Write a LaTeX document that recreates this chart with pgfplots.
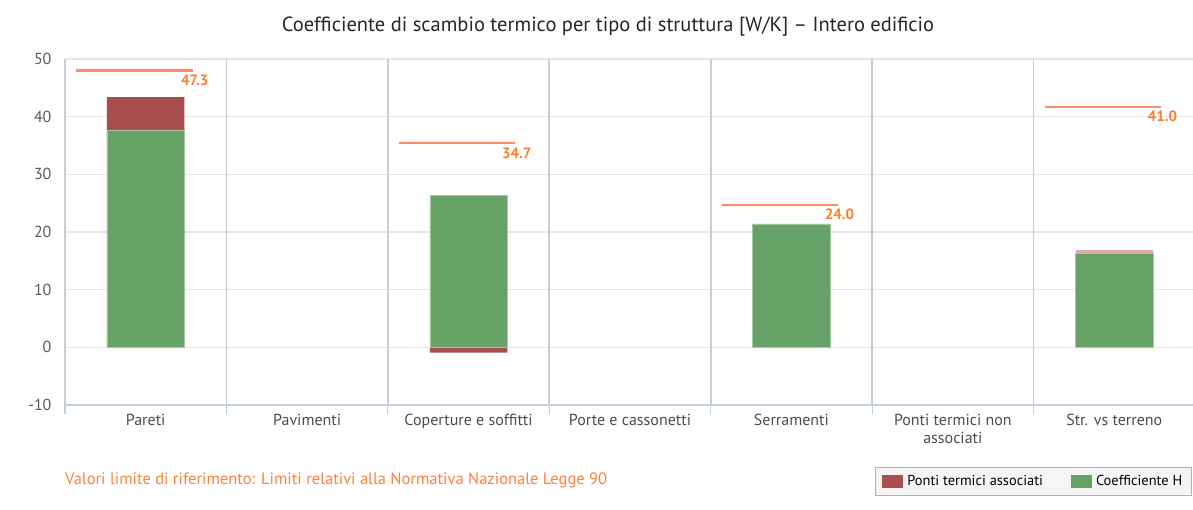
\documentclass[border=0pt]{standalone}
\usepackage{fontspec}
\setmainfont{PT Sans}
\usepackage{pgfplots}
\pgfplotsset{compat=1.18}
\definecolor{gH}{RGB}{103,163,103}
\definecolor{rP}{RGB}{168,78,78}
\definecolor{pP}{RGB}{222,170,170}
\definecolor{limline}{RGB}{255,140,105}
\definecolor{limtxt}{RGB}{255,125,40}
\definecolor{foot}{RGB}{255,128,64}
\definecolor{vgrid}{RGB}{205,205,205}
\definecolor{hgrid}{RGB}{230,230,230}
\definecolor{baseax}{RGB}{195,208,225}
\begin{document}
\begin{tikzpicture}
\path[use as bounding box] (0,0) rectangle (1193pt,509pt);
\begin{axis}[
  at={(65pt,104pt)}, anchor=south west,
  scale only axis, width=1130pt, height=346pt,
  xmin=-0.5, xmax=6.5, ymin=-10, ymax=50,
  ytick={-10,0,10,20,30,40,50},
  /pgf/number format/assume math mode=true,
  ymajorgrids, major grid style={hgrid, line width=1.2pt},
  axis line style={draw=none},
  xtick={0,...,6},
  xticklabels={Pareti,Pavimenti,Coperture e soffitti,Porte e cassonetti,Serramenti,{Ponti termici non\\associati},Str. vs terreno},
  xticklabel style={align=center, font=\fontsize{16}{18}\selectfont, text=black!70, yshift=-6pt},
  yticklabel style={font=\fontsize{16}{18}\selectfont, text=black!65, xshift=-10pt},
  major tick length=0pt,
  extra x ticks={-0.5,0.5,1.5,2.5,3.5,4.5,5.5,6.5},
  extra x tick labels={},
  extra x tick style={grid=major, major grid style={vgrid, line width=1.8pt}, major tick length=9pt, tick align=outside, xtick pos=bottom, tick style={baseax, line width=1.2pt}},
  extra y ticks={-10},
  extra y tick labels={},
  extra y tick style={grid=major, major grid style={baseax, line width=1.4pt}},
  legend columns=2,
  legend style={at={(0.717,-0.179)}, anchor=north west, fill=black!4, draw=black!30, font=\fontsize{14.4}{16}\selectfont, inner xsep=7pt, inner ysep=6pt, /tikz/every even column/.append style={column sep=26pt}, /tikz/every odd column/.append style={column sep=2pt}},
  legend image code/.code={\draw[#1, draw=none] (0pt,-6.5pt) rectangle (21pt,6.5pt);},
  clip=false,
]
% totals (red/pink drawn first, green overlays lower part)
\addplot[ybar, bar width=0.48, bar shift=0pt, fill=rP, draw=none] coordinates {(0,43.4) (2,-0.9)};
\addlegendentry{Ponti termici associati}
\addplot[ybar, bar width=0.48, bar shift=0pt, fill=pP, draw=none, forget plot] coordinates {(6,16.9)};
\addplot[ybar, bar width=0.48, bar shift=0pt, fill=gH, draw=gH!60!white, line width=0.5pt] coordinates {(0,37.7) (2,26.3) (4,21.4) (6,16.3)};
\addlegendentry{Coefficiente H}
% limit lines
\addplot[limline, line width=2.2pt, yshift=4pt, forget plot] coordinates {(-0.43,47.3) (0.29,47.3)};
\addplot[limline, line width=2.2pt, yshift=4pt, forget plot] coordinates {(1.57,34.7) (2.29,34.7)};
\addplot[limline, line width=2.2pt, yshift=4pt, forget plot] coordinates {(3.57,24.0) (4.29,24.0)};
\addplot[limline, line width=2.2pt, yshift=4pt, forget plot] coordinates {(5.57,41.0) (6.29,41.0)};
\node[anchor=north east, inner sep=0pt, text=limtxt, font=\bfseries\fontsize{15}{17}\selectfont] at (axis cs:0.39,47.3) {47.3};
\node[anchor=north east, inner sep=0pt, text=limtxt, font=\bfseries\fontsize{15}{17}\selectfont] at (axis cs:2.39,34.7) {34.7};
\node[anchor=north east, inner sep=0pt, text=limtxt, font=\bfseries\fontsize{15}{17}\selectfont] at (axis cs:4.39,24.0) {24.0};
\node[anchor=north east, inner sep=0pt, text=limtxt, font=\bfseries\fontsize{15}{17}\selectfont] at (axis cs:6.39,41.0) {41.0};
\end{axis}
\node[anchor=center, text=black!85, font=\fontsize{20.5}{23}\selectfont] at (608pt,482pt) {Coefficiente di scambio termico per tipo di struttura [W/K] – Intero edificio};
\node[anchor=west, inner sep=0pt, text=foot, font=\fontsize{16.5}{18}\selectfont] at (65pt,29pt) {Valori limite di riferimento: Limiti relativi alla Normativa Nazionale Legge 90};
\end{tikzpicture}
\end{document}
